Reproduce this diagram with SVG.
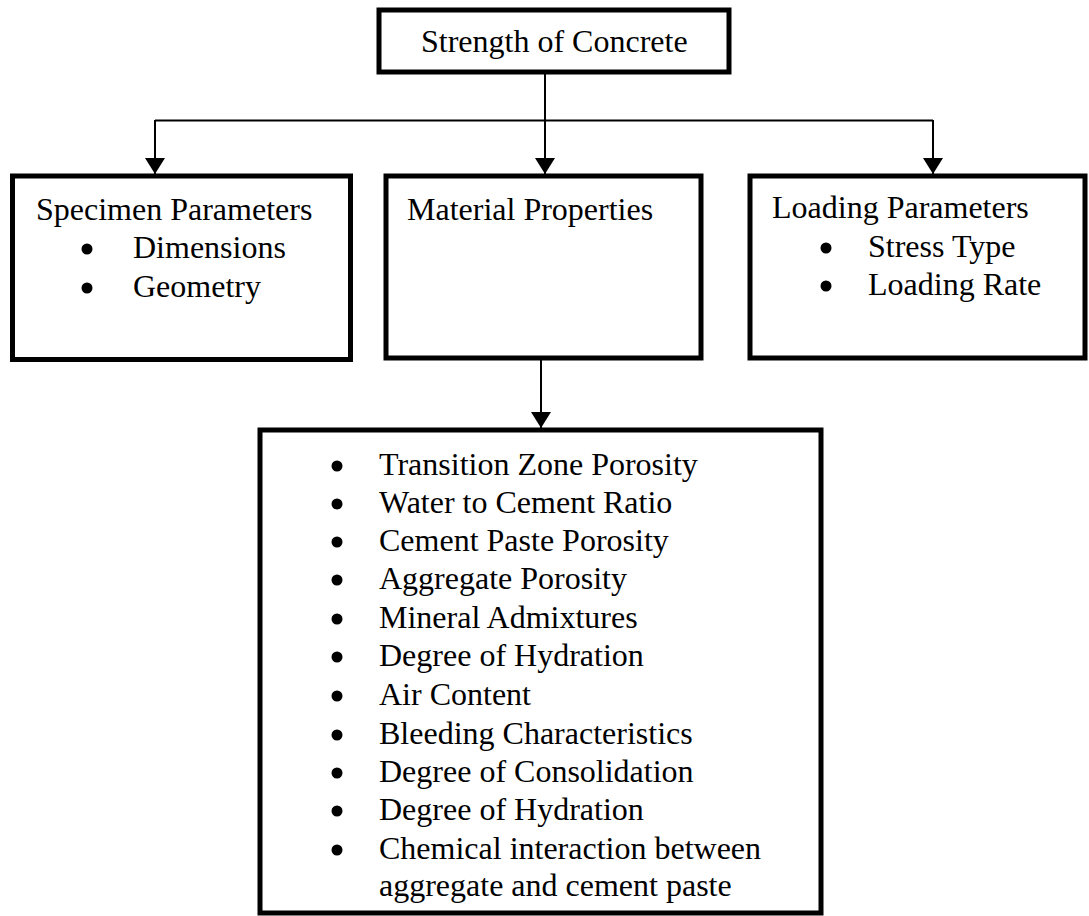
<svg xmlns="http://www.w3.org/2000/svg" width="1089" height="916" viewBox="0 0 1089 916">
<style>
.box{fill:#fff;stroke:#000;stroke-width:5}
.t{font-family:"Liberation Serif","Times New Roman",serif;font-size:32px;fill:#000}
.c{fill:none;stroke:#000;stroke-width:2}
.b{fill:#000}
</style>
<defs>
<marker id="arrow" markerUnits="userSpaceOnUse" viewBox="0 0 16 20" refX="16" refY="10" markerWidth="16" markerHeight="20" orient="auto">
<path d="M0,0 L16,10 L0,20 z" fill="#000"/>
</marker>
</defs>
<rect width="1089" height="916" fill="#fff"/>
<g id="connectors">
<line class="c" x1="545" y1="72" x2="545" y2="174" marker-end="url(#arrow)"/>
<line class="c" x1="155" y1="120.5" x2="933" y2="120.5"/>
<line class="c" x1="155" y1="120" x2="155" y2="174" marker-end="url(#arrow)"/>
<line class="c" x1="933" y1="120" x2="933" y2="174" marker-end="url(#arrow)"/>
<line class="c" x1="541" y1="358" x2="541" y2="428" marker-end="url(#arrow)"/>
</g>
<g id="root">
<rect class="box" x="379" y="10" width="350" height="62"/>
<text class="t" x="421" y="52">Strength of Concrete</text>
</g>
<g id="specimen">
<rect class="box" x="12.5" y="176" width="338" height="183.5"/>
<text class="t" x="36" y="220">Specimen Parameters</text>
<circle class="b" cx="87" cy="249" r="5.5"/>
<text class="t" x="133" y="258">Dimensions</text>
<circle class="b" cx="87" cy="288" r="5.5"/>
<text class="t" x="133" y="297">Geometry</text>
</g>
<g id="material">
<rect class="box" x="386" y="176" width="315" height="182"/>
<text class="t" x="407" y="220">Material Properties</text>
</g>
<g id="loading">
<rect class="box" x="750" y="176" width="335" height="182"/>
<text class="t" x="772" y="218">Loading Parameters</text>
<circle class="b" cx="826" cy="248" r="5.5"/>
<text class="t" x="868" y="257">Stress Type</text>
<circle class="b" cx="826" cy="286" r="5.5"/>
<text class="t" x="868" y="295">Loading Rate</text>
</g>
<g id="factors">
<rect class="box" x="260" y="430" width="561" height="483"/>
<circle class="b" cx="337" cy="466" r="5.5"/><text class="t" x="379" y="475">Transition Zone Porosity</text>
<circle class="b" cx="337" cy="504" r="5.5"/><text class="t" x="379" y="513">Water to Cement Ratio</text>
<circle class="b" cx="337" cy="542" r="5.5"/><text class="t" x="379" y="551">Cement Paste Porosity</text>
<circle class="b" cx="337" cy="580" r="5.5"/><text class="t" x="379" y="589">Aggregate Porosity</text>
<circle class="b" cx="337" cy="619" r="5.5"/><text class="t" x="379" y="628">Mineral Admixtures</text>
<circle class="b" cx="337" cy="657" r="5.5"/><text class="t" x="379" y="666">Degree of Hydration</text>
<circle class="b" cx="337" cy="696" r="5.5"/><text class="t" x="379" y="705">Air Content</text>
<circle class="b" cx="337" cy="735" r="5.5"/><text class="t" x="379" y="744">Bleeding Characteristics</text>
<circle class="b" cx="337" cy="773" r="5.5"/><text class="t" x="379" y="782">Degree of Consolidation</text>
<circle class="b" cx="337" cy="811" r="5.5"/><text class="t" x="379" y="820">Degree of Hydration</text>
<circle class="b" cx="337" cy="850" r="5.5"/><text class="t" x="379" y="859">Chemical interaction between</text>
<text class="t" x="379" y="896">aggregate and cement paste</text>
</g>
</svg>
